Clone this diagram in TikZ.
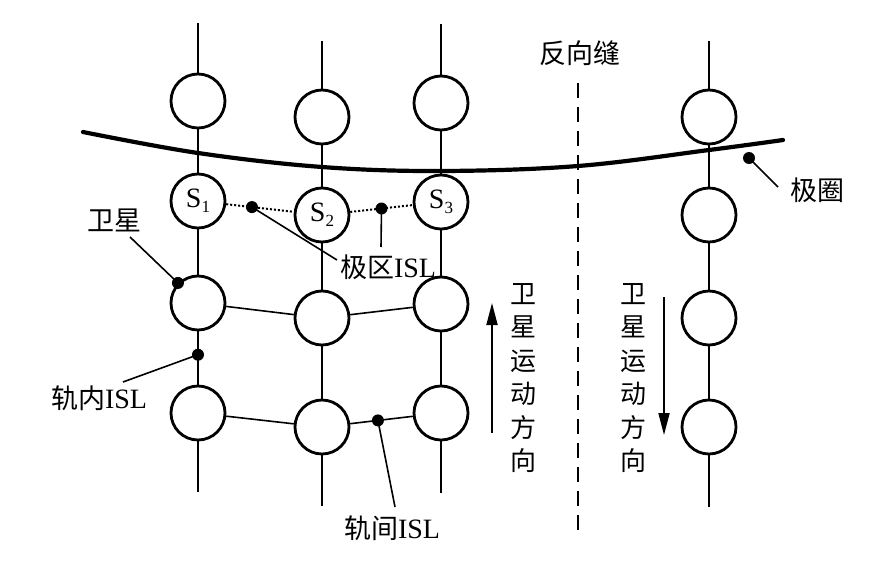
\documentclass[tikz,border=0pt]{standalone}
\usepackage{fontspec}
\setmainfont{Liberation Serif}
\newfontfamily\cjk{Noto Sans CJK SC}
\usetikzlibrary{arrows.meta,calc}
\begin{document}
\begin{tikzpicture}[x=1pt,y=-1pt,
  sat/.style={circle,draw,line width=2.8pt,minimum size=54pt,inner sep=0pt,font=\fontsize{28}{28}\selectfont},
  orb/.style={line width=1.8pt},
  isl/.style={line width=1.6pt},
  pisl/.style={line width=2pt,dotted},
  dotn/.style={circle,fill,inner sep=0pt,minimum size=12pt},
  lbl/.style={font=\fontsize{28}{28}\selectfont,inner sep=0pt},
  vlbl/.style={font=\cjk\fontsize{26}{33.5}\selectfont,align=center,inner sep=0pt},
  lead/.style={line width=1.6pt},
  mv/.style={line width=1.8pt,-{Triangle[length=22pt,width=11pt]}}]
\useasboundingbox (0,0) rectangle (885,562);
% column 1
\coordinate (t1) at (198,23); \coordinate (b1) at (198,492);
\node[sat] (a1) at (198,101) {};
\node[sat] (a2) at (198,201) {S\raisebox{-5pt}{\fontsize{17}{17}\selectfont 1}};
\node[sat] (a3) at (198,303) {};
\node[sat] (a4) at (198,413) {};
% column 2
\coordinate (t2) at (322,41); \coordinate (b2) at (322,506);
\node[sat] (b1n) at (322,117) {};
\node[sat] (b2n) at (322,215) {S\raisebox{-5pt}{\fontsize{17}{17}\selectfont 2}};
\node[sat] (b3n) at (322,318) {};
\node[sat] (b4n) at (322,427) {};
% column 3
\coordinate (t3) at (441,24); \coordinate (b3) at (441,493);
\node[sat] (c1) at (441,103) {};
\node[sat] (c2) at (441,202) {S\raisebox{-5pt}{\fontsize{17}{17}\selectfont 3}};
\node[sat] (c3) at (441,304) {};
\node[sat] (c4) at (441,413) {};
% column 4
\coordinate (t4) at (709,41); \coordinate (b4) at (709,507);
\node[sat] (d1) at (709,117) {};
\node[sat] (d2) at (709,215) {};
\node[sat] (d3) at (709,318) {};
\node[sat] (d4) at (709,427) {};
% orbits
\draw[orb] (t1) -- (a1) -- (a2) -- (a3) -- (a4) -- (b1);
\draw[orb] (t2) -- (b1n) -- (b2n) -- (b3n) -- (b4n) -- (b2);
\draw[orb] (t3) -- (c1) -- (c2) -- (c3) -- (c4) -- (b3);
\draw[orb] (t4) -- (d1) -- (d2) -- (d3) -- (d4) -- (b4);
% inter-orbit links
\draw[isl] (a3) -- (b3n) -- (c3);
\draw[isl] (a4) -- (b4n) -- (c4);
% polar links
\draw[pisl] (a2) -- (b2n) -- (c2);
% polar circle
\draw[line width=4.2pt,line cap=round] plot[smooth,tension=0.6] coordinates
  {(83,132) (198,153) (322,167) (441,171) (578,166) (709,150) (783,140)};
% seam
\draw[line width=1.8pt,dash pattern=on 15pt off 9pt] (578,83) -- (578,535);
\node[lbl,font=\cjk\fontsize{27}{27}\selectfont] (seam) at (580,53) {反向缝};
% dots
\node[dotn] (p1) at ($(a2)!0.435!(b2n)$) {};
\node[dotn] (p2) at ($(b2n)!0.5!(c2)$) {};
\node[dotn] (p3) at ($(b4n)!0.47!(c4)$) {};
\node[dotn] (p4) at ($(a3)!0.47!(a4)$) {};
\node[dotn] (p5) at (a3.135) {};
\node[dotn] (p6) at (749,158) {};
% labels
\node[lbl] (lsat) at (114,220) {{\cjk\fontsize{27}{27}\selectfont 卫星}};
\node[lbl] (lpol) at (388,267) {{\cjk\fontsize{27}{27}\selectfont 极区}ISL};
\node[lbl] (lin) at (99,398) {{\cjk\fontsize{27}{27}\selectfont 轨内}ISL};
\node[lbl] (lint) at (392,528) {{\cjk\fontsize{27}{27}\selectfont 轨间}ISL};
\node[lbl,font=\cjk\fontsize{27}{27}\selectfont] (lpc) at (817,190) {极圈};
% leaders
\coordinate (e1) at (130,237);
\coordinate (e2) at (337,260);
\coordinate (e3) at (381,247);
\coordinate (e4) at (123,382);
\coordinate (e5) at (395,507);
\coordinate (e6) at (778,187);
\draw[lead] (e1) -- (p5.center);
\draw[lead] (p1.center) -- (e2);
\draw[lead] (p2.center) -- (e3);
\draw[lead] (p4.center) -- (e4);
\draw[lead] (p3.center) -- (e5);
\draw[lead] (p6.center) -- (e6);
% motion directions
\coordinate (u0) at (492,433); \coordinate (u1) at (492,303);
\draw[mv] (u0) -- (u1);
\node[vlbl] (ltxt) at (523,378) {卫\\星\\运\\动\\方\\向};
\coordinate (w0) at (664,297); \coordinate (w1) at (664,435);
\draw[mv] (w0) -- (w1);
\node[vlbl] (rtxt) at (633,378) {卫\\星\\运\\动\\方\\向};
\end{tikzpicture}
\end{document}
